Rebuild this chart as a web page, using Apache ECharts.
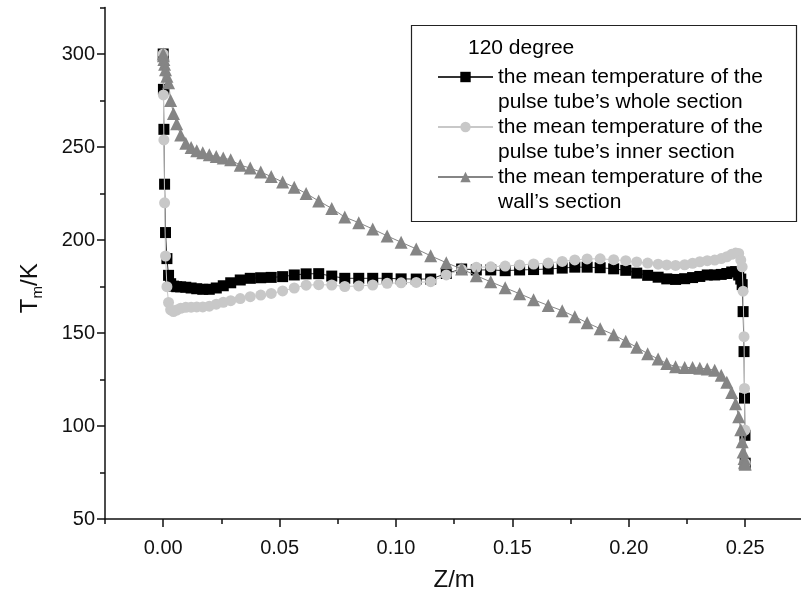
<!DOCTYPE html>
<html>
<head>
<meta charset="utf-8">
<script src="https://cdn.jsdelivr.net/npm/echarts@6/dist/echarts.min.js"></script>
<style>
html,body{margin:0;padding:0;background:#fff;}
#chart{width:801px;height:599px;}
</style>
</head>
<body>
<div id="chart"></div>
<script>
// ---- data ----
const z = [0, 0.0001, 0.0003, 0.0006, 0.001, 0.0016, 0.0023, 0.0032, 0.0044, 0.0058,
  0.0075, 0.0097, 0.012, 0.0144, 0.017, 0.0198, 0.0228, 0.0258, 0.029, 0.0331,
  0.0374, 0.0419, 0.0464, 0.0513, 0.0563, 0.0614, 0.0668, 0.0724, 0.078, 0.084,
  0.09, 0.0962, 0.1022, 0.1087, 0.1149, 0.1216, 0.1282, 0.1345, 0.1407, 0.1469,
  0.1531, 0.1591, 0.1654, 0.1714, 0.1768, 0.1821, 0.1877, 0.1935, 0.1987, 0.2034,
  0.2081, 0.2126, 0.2163, 0.2201, 0.224, 0.2274, 0.2305, 0.2337, 0.2369, 0.2397,
  0.2421, 0.2442, 0.2459, 0.2472, 0.2481, 0.2487, 0.2491, 0.2495, 0.2497, 0.2499, 0.25];

const tWhole = [300, 281, 259.5, 230, 204, 190, 181, 176.5, 175.2, 174.9,
  174.8, 174.6, 174.2, 173.8, 173.5, 173.5, 174.2, 175.4, 177, 178.5,
  179.4, 179.7, 179.9, 180.3, 181.2, 181.8, 181.9, 180.6, 179.4, 179.4,
  179.4, 179.4, 179.1, 179, 179, 182, 184.4, 183.9, 183.9, 183.5,
  183.9, 184.1, 184.4, 184.9, 185.4, 185.4, 185.1, 184.5, 183.7, 182.2,
  181, 180, 179.1, 178.8, 179.2, 179.8, 180.4, 181.2, 181.2, 181.5,
  182, 182.8, 183, 181.2, 179, 176, 161.5, 140, 115, 95, 80];

const tInner = [300, 278, 253.8, 220, 191.4, 174.9, 166.4, 162.5, 161.5, 162.3,
  163.3, 163.8, 163.9, 164, 164, 164.4, 165.5, 166.5, 167.4, 168.5,
  169.5, 170.4, 171.3, 172.6, 174.2, 175.7, 176, 175.8, 175, 175.3,
  175.8, 176.7, 177, 177.2, 177.6, 181.2, 184.2, 185.3, 185.6, 186,
  186.6, 187.1, 187.6, 188.5, 189.3, 189.8, 189.9, 189.4, 188.9, 188.2,
  187.6, 187, 186.6, 186.3, 186.7, 187.5, 188.3, 188.9, 189.2, 190,
  191, 192.3, 193, 192.8, 189.2, 185.6, 172.5, 148, 120.2, 97.8, 80];

const tWall = [300, 299, 297, 294.5, 291.5, 288, 284.5, 275, 268, 262.5,
  256.5, 252, 249.7, 248, 246.9, 245.8, 244.9, 244.1, 243.1, 240.2,
  238.7, 236.5, 234.1, 231.2, 228.4, 225, 221, 217, 212.3, 209.3,
  205.9, 202.2, 198.8, 195.2, 191.5, 187.8, 184.4, 180.8, 177.5, 174.3,
  171.1, 167.9, 164.8, 162, 158.8, 155.5, 152.3, 149.1, 145.5, 142.4,
  138.9, 136, 133.6, 131.9, 131.5, 131.4, 131.1, 130.7, 130, 127.3,
  123.5, 118, 112, 105, 98, 91.5, 86, 82.5, 80.5, 80, 79.5];

const seriesNames = [
  'the mean temperature of the\npulse tube\u2019s whole section',
  'the mean temperature of the\npulse tube\u2019s inner section',
  'the mean temperature of the\nwall\u2019s section'
];
const legendTitle = '120 degree';

const xMajorTicks = [0, 0.05, 0.1, 0.15, 0.2, 0.25];
const xMinorTicks = [-0.025, 0.025, 0.075, 0.125, 0.175, 0.225];
const yMajorTicks = [50, 100, 150, 200, 250, 300];
const yMinorTicks = [75, 125, 175, 225, 275, 325];

// ---- chart ----
const FONT = "'Liberation Sans', Arial, Helvetica, sans-serif";
const AX = '#111';
const pairs = (ys) => z.map((x, i) => [x, ys[i]]);

const chart = echarts.init(document.getElementById('chart'), null, {renderer: 'canvas'});

const xBase = {type: 'value', min: -0.025, max: 0.275, position: 'bottom', gridIndex: 0, splitLine: {show: false}};
const yBase = {type: 'value', min: 50, max: 325, position: 'left', gridIndex: 0, splitLine: {show: false}};

const legendCenters = [77, 127, 177];

const option = {
  animation: false,
  backgroundColor: '#fff',
  textStyle: {fontFamily: FONT},
  grid: {left: 105, top: 7.5, width: 698.4, height: 511.5, containLabel: false, outerBoundsMode: 'none'},
  xAxis: [
    Object.assign({}, xBase, {
      axisLine: {show: true, onZero: false, lineStyle: {color: AX, width: 1.5}},
      axisTick: {show: true, inside: false, length: 8, customValues: xMajorTicks, lineStyle: {color: AX, width: 1.5}},
      axisLabel: {show: true, customValues: xMajorTicks, formatter: v => v.toFixed(2), fontSize: 20, color: AX, margin: 19, fontFamily: FONT},
      name: 'Z/m', nameLocation: 'middle', nameGap: 49,
      nameTextStyle: {fontSize: 24, color: AX, fontFamily: FONT}
    }),
    Object.assign({}, xBase, {
      axisLine: {show: false, onZero: false},
      axisTick: {show: true, inside: false, length: 5, customValues: xMinorTicks, lineStyle: {color: AX, width: 1.5}},
      axisLabel: {show: false}
    })
  ],
  yAxis: [
    Object.assign({}, yBase, {
      axisLine: {show: true, onZero: false, lineStyle: {color: AX, width: 1.5}},
      axisTick: {show: true, inside: false, length: 8, customValues: yMajorTicks, lineStyle: {color: AX, width: 1.5}},
      axisLabel: {show: true, customValues: yMajorTicks, fontSize: 20, color: AX, margin: 10, fontFamily: FONT},
      name: '{a|T}{b|m}{a|/K}{s|}', nameLocation: 'middle', nameGap: 60, nameRotate: 90,
      nameTextStyle: {
        color: AX, fontFamily: FONT,
        rich: {
          a: {fontSize: 24, color: AX, fontFamily: FONT, lineHeight: 30, verticalAlign: 'middle'},
          b: {fontSize: 15, color: AX, fontFamily: FONT, verticalAlign: 'bottom'},
          s: {width: 50, fontSize: 24, lineHeight: 30}
        }
      }
    }),
    Object.assign({}, yBase, {
      axisLine: {show: false, onZero: false},
      axisTick: {show: true, inside: false, length: 5, customValues: yMinorTicks, lineStyle: {color: AX, width: 1.5}},
      axisLabel: {show: false}
    })
  ],
  legend: seriesNames.map((n, i) => ({
    data: [n],
    orient: 'vertical',
    left: 437,
    top: legendCenters[i] - 37.5,
    padding: 0,
    itemWidth: 55,
    itemHeight: 13,
    selectedMode: false,
    formatter: name => '\n' + name,
    textStyle: {fontSize: 21, color: '#000', fontFamily: FONT, lineHeight: 25}
  })),
  graphic: [
    {type: 'rect', left: 409, top: 23, silent: true, z: 50,
      shape: {width: 385, height: 196}, style: {fill: 'none', stroke: '#222', lineWidth: 1.2}},
    {type: 'text', left: 468, top: 38, silent: true, z: 50,
      style: {text: legendTitle, fontSize: 21, fontFamily: FONT, fill: '#000'}}
  ],
  series: [
    {
      name: seriesNames[0], type: 'line', xAxisIndex: 0, yAxisIndex: 0,
      data: pairs(tWhole), symbol: 'rect', symbolSize: 11, showAllSymbol: true,
      itemStyle: {color: '#000', borderWidth: 0}, lineStyle: {color: '#333', width: 1},
      emphasis: {disabled: true}, z: 2
    },
    {
      name: seriesNames[1], type: 'line', xAxisIndex: 0, yAxisIndex: 0,
      data: pairs(tInner), symbol: 'circle', symbolSize: 11, showAllSymbol: true,
      itemStyle: {color: '#c8c8c8', borderWidth: 0}, lineStyle: {color: '#c8c8c8', width: 1},
      emphasis: {disabled: true}, z: 3
    },
    {
      name: seriesNames[2], type: 'line', xAxisIndex: 0, yAxisIndex: 0,
      data: pairs(tWall), symbol: 'triangle', symbolSize: 13, showAllSymbol: true,
      itemStyle: {color: '#858585', borderWidth: 0}, lineStyle: {color: '#858585', width: 1},
      emphasis: {disabled: true}, z: 4
    }
  ]
};
chart.setOption(option);
</script>
</body>
</html>
